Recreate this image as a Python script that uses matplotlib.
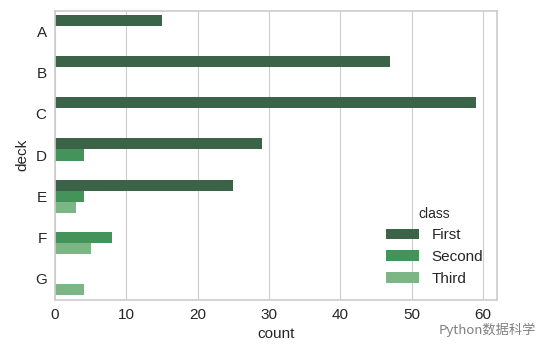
import matplotlib
matplotlib.use("Agg")
import matplotlib.pyplot as plt
import seaborn as sns
import numpy as np

decks = ["A", "B", "C", "D", "E", "F", "G"]
classes = ["First", "Second", "Third"]
first = [15, 47, 59, 29, 25, 0, 0]
second = [0, 0, 0, 4, 4, 8, 0]
third = [0, 0, 0, 0, 3, 5, 4]
xticks = [0, 10, 20, 30, 40, 50, 60]

sns.set_style("whitegrid", {"axes.edgecolor": "0.8", "grid.color": "0.8"})
plt.rcParams["font.family"] = ["Liberation Sans", "Noto Sans CJK SC", "DejaVu Sans"]

fig = plt.figure(figsize=(5.52, 3.55), dpi=100)
ax = fig.add_axes([55/552, 1 - 299.5/355, 442/552, 289/355])

pal = sns.color_palette("Greens_d", 3)[::-1]
pal = [sns.desaturate(c, 0.75) for c in pal]
vals = [first, second, third]
w = 0.8 / 3
y = np.arange(len(decks))
for i, (cl, v) in enumerate(zip(classes, vals)):
    ax.barh(y + (i - 1) * w, v, height=w, color=pal[i], label=cl, linewidth=0)

ax.set_yticks(y)
ax.set_yticklabels(decks)
ax.set_ylim(len(decks) - 0.5, -0.5)
ax.set_xlim(0, 61.95)
ax.set_xticks(xticks)
ax.grid(axis="y", visible=False)
ax.set_axisbelow(True)
ax.tick_params(labelsize=11, colors="0.15", length=0, pad=6)
ax.set_xlabel("count", fontsize=11, color="0.15")
ax.set_ylabel("deck", fontsize=11, color="0.15")
for s in ax.spines.values():
    s.set_color("0.8")
    s.set_linewidth(1.2)

leg = ax.legend(title="class", loc="lower right", frameon=False, fontsize=11,
                title_fontsize=10, handlelength=2.2)

fig.text(439/552, 1 - 330/355, "Python数据科学", fontsize=9.5, color="0.5",
         va="center", family=["Noto Sans CJK SC", "DejaVu Sans"])

fig.savefig("out.png", dpi=100, facecolor="white")
